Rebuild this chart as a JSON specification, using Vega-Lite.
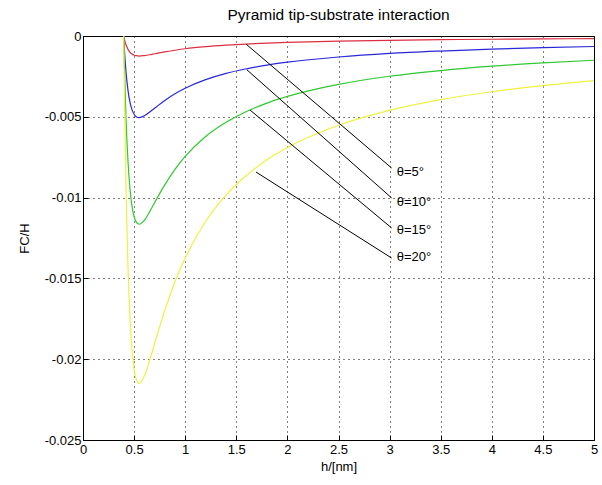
{
  "$schema": "https://vega.github.io/schema/vega-lite/v6.json",
  "width": 511,
  "height": 404,
  "autosize": {"type": "none"},
  "padding": {"left": 83, "top": 36, "right": 8, "bottom": 45},
  "background": "white",
  "title": {"text": "Pyramid tip-substrate interaction", "font": "Liberation Sans", "fontSize": 15.5, "fontWeight": "normal", "color": "black", "offset": 7},
  "config": {
    "view": {"stroke": "black", "strokeWidth": 1},
    "axis": {
      "labelFont": "Liberation Sans", "labelFontSize": 13, "labelColor": "black", "labelFlush": false, "labelOverlap": false,
      "titleFont": "Liberation Sans", "titleFontSize": 13, "titleFontWeight": "normal", "titleColor": "black",
      "domainColor": "black", "tickColor": "black", "tickSize": -5,
      "grid": true, "gridColor": "black", "gridDash": [1, 4], "gridOpacity": 1, "gridWidth": 1
    }
  },
  "datasets": {
    "curves": [
      {"h": 0.38, "fc": 0.00066, "theta": "5"}, {"h": 0.40, "fc": -0.00007, "theta": "5"}, {"h": 0.42, "fc": -0.00053, "theta": "5"}, {"h": 0.44, "fc": -0.00082, "theta": "5"}, {"h": 0.46, "fc": -0.00101, "theta": "5"}, {"h": 0.48, "fc": -0.00112, "theta": "5"}, {"h": 0.50, "fc": -0.00119, "theta": "5"}, {"h": 0.52, "fc": -0.00122, "theta": "5"}, {"h": 0.55, "fc": -0.00124, "theta": "5"}, {"h": 0.60, "fc": -0.00121, "theta": "5"}, {"h": 0.65, "fc": -0.00116, "theta": "5"}, {"h": 0.70, "fc": -0.00110, "theta": "5"}, {"h": 0.80, "fc": -0.00098, "theta": "5"}, {"h": 0.90, "fc": -0.00088, "theta": "5"}, {"h": 1.0, "fc": -0.00079, "theta": "5"}, {"h": 1.2, "fc": -0.00066, "theta": "5"}, {"h": 1.4, "fc": -0.00057, "theta": "5"}, {"h": 1.6, "fc": -0.00050, "theta": "5"}, {"h": 1.8, "fc": -0.00044, "theta": "5"}, {"h": 2.0, "fc": -0.00040, "theta": "5"}, {"h": 2.5, "fc": -0.00032, "theta": "5"}, {"h": 3.0, "fc": -0.00027, "theta": "5"}, {"h": 3.5, "fc": -0.00023, "theta": "5"}, {"h": 4.0, "fc": -0.00020, "theta": "5"}, {"h": 4.5, "fc": -0.00018, "theta": "5"}, {"h": 5.0, "fc": -0.00016, "theta": "5"},
      {"h": 0.38, "fc": 0.00267, "theta": "10"}, {"h": 0.40, "fc": -0.00028, "theta": "10"}, {"h": 0.42, "fc": -0.00216, "theta": "10"}, {"h": 0.44, "fc": -0.00335, "theta": "10"}, {"h": 0.46, "fc": -0.00411, "theta": "10"}, {"h": 0.48, "fc": -0.00457, "theta": "10"}, {"h": 0.50, "fc": -0.00484, "theta": "10"}, {"h": 0.52, "fc": -0.00499, "theta": "10"}, {"h": 0.55, "fc": -0.00505, "theta": "10"}, {"h": 0.60, "fc": -0.00494, "theta": "10"}, {"h": 0.65, "fc": -0.00472, "theta": "10"}, {"h": 0.70, "fc": -0.00447, "theta": "10"}, {"h": 0.80, "fc": -0.00399, "theta": "10"}, {"h": 0.90, "fc": -0.00357, "theta": "10"}, {"h": 1.0, "fc": -0.00323, "theta": "10"}, {"h": 1.2, "fc": -0.00270, "theta": "10"}, {"h": 1.4, "fc": -0.00231, "theta": "10"}, {"h": 1.6, "fc": -0.00203, "theta": "10"}, {"h": 1.8, "fc": -0.00180, "theta": "10"}, {"h": 2.0, "fc": -0.00162, "theta": "10"}, {"h": 2.5, "fc": -0.00130, "theta": "10"}, {"h": 3.0, "fc": -0.00108, "theta": "10"}, {"h": 3.5, "fc": -0.00093, "theta": "10"}, {"h": 4.0, "fc": -0.00081, "theta": "10"}, {"h": 4.5, "fc": -0.00072, "theta": "10"}, {"h": 5.0, "fc": -0.00065, "theta": "10"},
      {"h": 0.38, "fc": 0.00616, "theta": "15"}, {"h": 0.40, "fc": -0.00065, "theta": "15"}, {"h": 0.42, "fc": -0.00498, "theta": "15"}, {"h": 0.44, "fc": -0.00773, "theta": "15"}, {"h": 0.46, "fc": -0.00947, "theta": "15"}, {"h": 0.48, "fc": -0.01054, "theta": "15"}, {"h": 0.50, "fc": -0.01117, "theta": "15"}, {"h": 0.52, "fc": -0.01150, "theta": "15"}, {"h": 0.55, "fc": -0.01165, "theta": "15"}, {"h": 0.60, "fc": -0.01141, "theta": "15"}, {"h": 0.65, "fc": -0.01090, "theta": "15"}, {"h": 0.70, "fc": -0.01032, "theta": "15"}, {"h": 0.80, "fc": -0.00921, "theta": "15"}, {"h": 0.90, "fc": -0.00825, "theta": "15"}, {"h": 1.0, "fc": -0.00745, "theta": "15"}, {"h": 1.2, "fc": -0.00622, "theta": "15"}, {"h": 1.4, "fc": -0.00534, "theta": "15"}, {"h": 1.6, "fc": -0.00467, "theta": "15"}, {"h": 1.8, "fc": -0.00415, "theta": "15"}, {"h": 2.0, "fc": -0.00374, "theta": "15"}, {"h": 2.5, "fc": -0.00299, "theta": "15"}, {"h": 3.0, "fc": -0.00249, "theta": "15"}, {"h": 3.5, "fc": -0.00214, "theta": "15"}, {"h": 4.0, "fc": -0.00187, "theta": "15"}, {"h": 4.5, "fc": -0.00166, "theta": "15"}, {"h": 5.0, "fc": -0.00150, "theta": "15"},
      {"h": 0.38, "fc": 0.01137, "theta": "20"}, {"h": 0.40, "fc": -0.00119, "theta": "20"}, {"h": 0.42, "fc": -0.00918, "theta": "20"}, {"h": 0.44, "fc": -0.01427, "theta": "20"}, {"h": 0.46, "fc": -0.01747, "theta": "20"}, {"h": 0.48, "fc": -0.01945, "theta": "20"}, {"h": 0.50, "fc": -0.02061, "theta": "20"}, {"h": 0.52, "fc": -0.02122, "theta": "20"}, {"h": 0.55, "fc": -0.02150, "theta": "20"}, {"h": 0.60, "fc": -0.02104, "theta": "20"}, {"h": 0.65, "fc": -0.02011, "theta": "20"}, {"h": 0.70, "fc": -0.01905, "theta": "20"}, {"h": 0.80, "fc": -0.01698, "theta": "20"}, {"h": 0.90, "fc": -0.01521, "theta": "20"}, {"h": 1.0, "fc": -0.01374, "theta": "20"}, {"h": 1.2, "fc": -0.01148, "theta": "20"}, {"h": 1.4, "fc": -0.00985, "theta": "20"}, {"h": 1.6, "fc": -0.00862, "theta": "20"}, {"h": 1.8, "fc": -0.00766, "theta": "20"}, {"h": 2.0, "fc": -0.00690, "theta": "20"}, {"h": 2.5, "fc": -0.00552, "theta": "20"}, {"h": 3.0, "fc": -0.00460, "theta": "20"}, {"h": 3.5, "fc": -0.00394, "theta": "20"}, {"h": 4.0, "fc": -0.00345, "theta": "20"}, {"h": 4.5, "fc": -0.00307, "theta": "20"}, {"h": 5.0, "fc": -0.00276, "theta": "20"}
    ],
    "notes": [
      {"x1": 1.595, "y1": -0.00050, "x2": 3.02, "y2": -0.00817, "lx": 3.07, "ly": -0.00840, "label": "θ=5°"},
      {"x1": 1.605, "y1": -0.00210, "x2": 3.02, "y2": -0.01002, "lx": 3.07, "ly": -0.01025, "label": "θ=10°"},
      {"x1": 1.634, "y1": -0.00458, "x2": 3.02, "y2": -0.01188, "lx": 3.07, "ly": -0.01200, "label": "θ=15°"},
      {"x1": 1.693, "y1": -0.00842, "x2": 3.02, "y2": -0.01374, "lx": 3.07, "ly": -0.01370, "label": "θ=20°"}
    ]
  },
  "layer": [
    {
      "data": {"name": "curves"},
      "mark": {"type": "line", "clip": true, "strokeWidth": 1.2, "interpolate": "monotone"},
      "encoding": {
        "x": {"field": "h", "type": "quantitative", "scale": {"domain": [0, 5], "nice": false},
          "axis": {"title": "h/[nm]", "values": [0, 0.5, 1, 1.5, 2, 2.5, 3, 3.5, 4, 4.5, 5], "labelExpr": "toString(datum.value)", "labelPadding": 8, "titlePadding": 4}},
        "y": {"field": "fc", "type": "quantitative", "scale": {"domain": [-0.025, 0], "nice": false, "zero": false},
          "axis": {"title": "FC/H", "values": [0, -0.005, -0.01, -0.015, -0.02, -0.025], "labelExpr": "toString(datum.value)", "labelPadding": 7, "titlePadding": 13}},
        "color": {"field": "theta", "type": "nominal", "legend": null,
          "scale": {"domain": ["5", "10", "15", "20"], "range": ["#dc3040", "#2828d8", "#30c830", "#f0f040"]}},
        "order": {"field": "h", "type": "quantitative"}
      }
    },
    {
      "data": {"name": "notes"},
      "mark": {"type": "rule", "color": "black", "strokeWidth": 1},
      "encoding": {
        "x": {"field": "x1", "type": "quantitative"},
        "y": {"field": "y1", "type": "quantitative"},
        "x2": {"field": "x2"},
        "y2": {"field": "y2"}
      }
    },
    {
      "data": {"name": "notes"},
      "mark": {"type": "text", "align": "left", "baseline": "middle", "font": "Liberation Sans", "fontSize": 13, "color": "black"},
      "encoding": {
        "x": {"field": "lx", "type": "quantitative"},
        "y": {"field": "ly", "type": "quantitative"},
        "text": {"field": "label"}
      }
    }
  ]
}
